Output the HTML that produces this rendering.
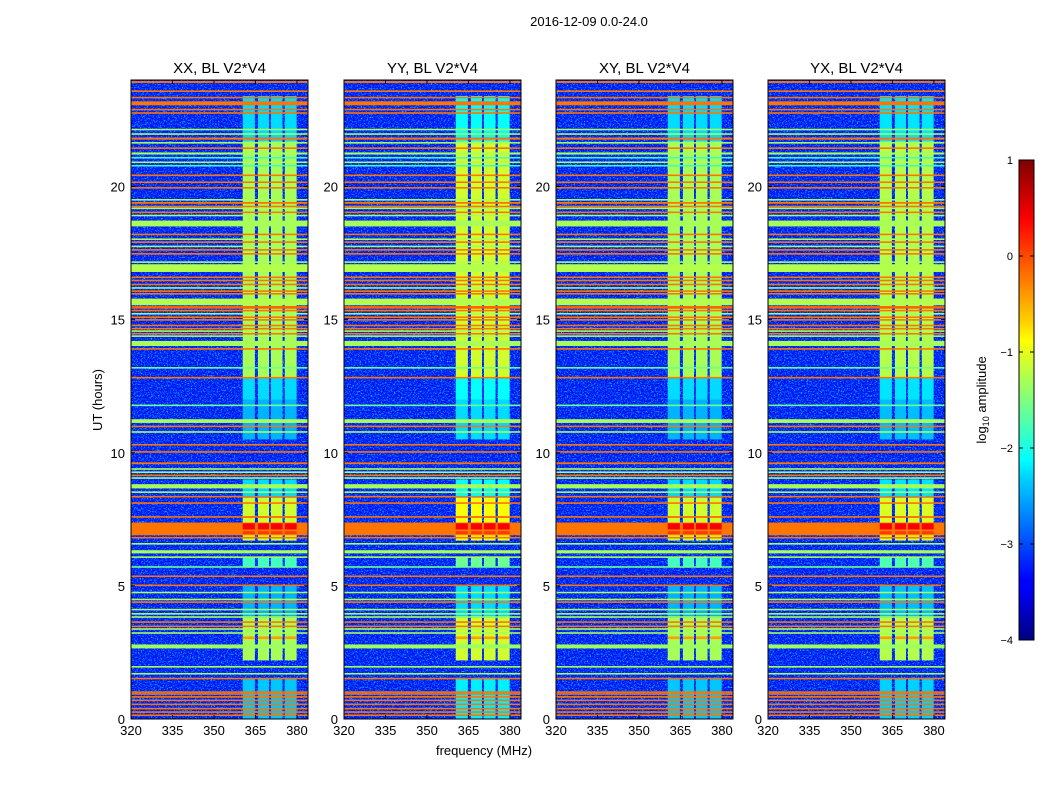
<!DOCTYPE html>
<html><head><meta charset="utf-8"><style>
body{margin:0;background:#fff;width:1050px;height:800px;overflow:hidden;font-family:"Liberation Sans",sans-serif}
svg text{font-family:"Liberation Sans",sans-serif;fill:#000}
</style></head><body>
<svg id="fig" width="1050" height="800" xmlns="http://www.w3.org/2000/svg">
<defs>
<linearGradient id="jet" x1="0" y1="1" x2="0" y2="0">
<stop offset="0" stop-color="#00007f"/><stop offset="0.11" stop-color="#0000ff"/><stop offset="0.125" stop-color="#0000ff"/>
<stop offset="0.34" stop-color="#00d4ff"/><stop offset="0.375" stop-color="#0ff"/><stop offset="0.5" stop-color="#7fff7f"/>
<stop offset="0.625" stop-color="#ff0"/><stop offset="0.66" stop-color="#ffd400"/><stop offset="0.875" stop-color="#f00"/><stop offset="1" stop-color="#7f0000"/>
</linearGradient>
<filter id="noise" x="0" y="0" width="1" height="1" filterUnits="objectBoundingBox">
<feTurbulence type="fractalNoise" baseFrequency="0.7" numOctaves="2" seed="3" result="t"/>
<feColorMatrix in="t" type="matrix" values="0 0 0 0 0  0 0 0 0 0.55  0 0 0 0 1  0 0 0 4 -1.9"/>
</filter>
<filter id="noise2" x="0" y="0" width="1" height="1" filterUnits="objectBoundingBox">
<feTurbulence type="fractalNoise" baseFrequency="0.8" numOctaves="2" seed="11" result="t"/>
<feColorMatrix in="t" type="matrix" values="0 0 0 0 0  0 0 0 0 0  0 0 0 0 0.75  0 0 0 4 -1.9"/>
</filter>
</defs>
<text x="589" y="26" font-size="13" text-anchor="middle">2016-12-09 0.0-24.0</text>
<text x="484" y="755" font-size="13" text-anchor="middle">frequency (MHz)</text>
<text x="0" y="0" font-size="13" text-anchor="middle" transform="translate(102,400) rotate(-90)">UT (hours)</text>
<g id="panels"></g>
<g>
<rect x="1019" y="160" width="15" height="480" fill="url(#jet)" stroke="#000" stroke-width="1"/>
<g id="cbticks"></g>
<text x="0" y="0" font-size="13" text-anchor="middle" transform="translate(986,400) rotate(-90)">log<tspan font-size="9" dy="3">10</tspan><tspan dy="-3"> amplitude</tspan></text>
</g>
</svg>
<script>
// ---- data ----
const panelTitles=["XX, BL V2*V4","YY, BL V2*V4","XY, BL V2*V4","YX, BL V2*V4"];
const panelX=[131,344,556,768];
const xTicks=[320,335,350,365,380];
const yTicks=[0,5,10,15,20];
const cbTicks=[1,0,-1,-2,-3,-4];
const backgroundLevel=-3.25;
// horizontal RFI lines: start hour, end hour, log10 amplitude
const lineStart=[23.89,23.56,23.31,23.05,22.87,22.74,22.13,21.96,21.76,21.63,21.43,21.20,21.07,20.90,20.77,20.41,20.15,19.94,19.49,19.35,19.24,19.17,19.02,18.90,18.50,18.18,18.01,17.90,17.74,17.61,17.46,17.15,16.79,16.58,16.46,16.31,16.18,16.06,15.96,15.54,15.41,15.33,15.21,15.08,14.98,14.77,14.65,14.56,14.46,14.37,14.01,13.89,13.18,12.79,11.77,11.12,10.98,10.77,10.29,10.00,9.57,9.38,9.26,9.14,9.04,8.66,8.51,8.32,8.10,7.58,6.90,6.80,6.57,6.22,6.07,5.70,5.35,5.01,4.74,4.48,4.38,4.10,3.94,3.81,3.63,3.47,3.37,3.22,2.65,1.93,1.69,1.51,1.01,0.94,0.82,0.69,0.54,0.38,0.25,0.13];
const lineEnd=  [23.96,23.61,23.37,23.20,22.92,22.79,22.17,22.00,21.84,21.67,21.47,21.28,21.11,20.94,20.81,20.45,20.19,19.98,19.53,19.42,19.28,19.21,19.06,18.94,18.72,18.23,18.05,17.94,17.78,17.65,17.50,17.19,17.08,16.62,16.50,16.35,16.22,16.10,16.00,15.79,15.51,15.37,15.25,15.12,15.02,14.81,14.69,14.60,14.50,14.41,14.20,13.93,13.22,12.85,11.81,11.26,11.02,10.81,10.33,10.06,9.64,9.42,9.30,9.18,9.08,8.82,8.55,8.38,8.14,7.62,7.38,6.84,6.61,6.34,6.11,5.74,5.39,5.05,4.78,4.52,4.42,4.14,3.98,3.86,3.67,3.51,3.41,3.26,2.80,1.99,1.73,1.55,1.04,0.97,0.86,0.73,0.58,0.42,0.29,0.17];
const lineLevel=[-0.2,-0.2,-0.2,-0.2,-0.2,-0.2,-1.3,-1.3,-0.2,-1.3,-0.2,-1.3,-1.8,-1.3,-1.8,-0.2,-0.2,-0.2,-1.3,-0.2,-0.2,-1.3,-0.2,-1.3,-1.3,-0.2,-1.3,-0.2,-1.3,-0.2,-0.2,-1.3,-1.25,-0.2,-0.2,-0.2,-1.3,-0.2,-0.2,-1.25,-0.1,-0.2,-1.3,-0.2,-0.2,-0.2,-0.2,-1.3,-0.2,-1.3,-1.3,-0.2,-1.6,-0.2,-1.6,-1.3,-0.2,-1.3,-0.2,-0.2,-0.2,-1.3,-1.3,-0.2,-1.3,-1.3,-1.3,-0.2,-0.2,-0.2,-0.2,-0.2,-1.3,-1.3,-1.3,-1.6,-0.2,-0.2,-1.3,-1.3,-0.2,-1.3,-1.3,-1.3,-0.2,-0.2,-1.3,-1.3,-1.35,-1.3,-1.3,-0.2,-0.2,-0.2,-0.2,-0.2,-0.2,-0.2,-0.2,-0.2];
// time-variable wideband RFI: start hour, end hour, level
const rfiStart=[21.70,12.80,12.00,10.50,8.30,6.70,5.70,3.80,2.20,0.00];
const rfiEnd=  [23.40,21.70,12.80,12.00,9.00,8.30,6.10,5.00,3.80,1.50];
const rfiLevel=[-2.3,-1.3,-2.3,-2.5,-2.3,-1.1,-1.8,-2.5,-1.3,-2.4];
// affected frequency channels (MHz)
const chanStart=[360.4,365.9,370.6,375.6];
const chanEnd=  [364.8,369.9,374.8,379.9];
// strong in-channel bursts: start hour, end hour, level
const hotStart=[7.12,6.95,7.55,3.0];
const hotEnd=  [7.35,7.05,7.62,3.1];
const hotLevel=[0.4,0.1,-0.2,-0.4];
// per-panel RFI boost (YY slightly stronger)
const panelBoost=[0,0.2,0,0.05];

// ---- helpers ----
const NS="http://www.w3.org/2000/svg";
function jet(v){let t=(v+4)/5;t=Math.max(0,Math.min(1,t));
 const r=Math.max(0,Math.min(1,Math.min(4*t-1.5,-4*t+4.5)));
 const g=Math.max(0,Math.min(1,Math.min(4*t-0.5,-4*t+3.5)));
 const b=Math.max(0,Math.min(1,Math.min(4*t+0.5,-4*t+2.5)));
 return `rgb(${Math.round(r*255)},${Math.round(g*255)},${Math.round(b*255)})`;}
function mk(tag,attrs,parent){const e=document.createElementNS(NS,tag);for(const k in attrs)e.setAttribute(k,attrs[k]);parent.appendChild(e);return e;}
const W=177,TOP=80,BOT=719,FMIN=320,FMAX=384,HMAX=24;
const panels=document.getElementById('panels');
panelX.forEach((x0,p)=>{
 const xs=f=>x0+(f-FMIN)/(FMAX-FMIN)*W;
 const ys=h=>BOT-h/HMAX*(BOT-TOP);
 const g=mk('g',{},panels);
 
 
 const bg=mk('rect',{x:x0,y:TOP,width:W,height:BOT-TOP,fill:jet(backgroundLevel)},g);
 
 
 const nz=mk('rect',{x:x0,y:TOP,width:W,height:BOT-TOP,fill:'#fff',filter:'url(#noise)'},g);
 
 
 const nz2=mk('rect',{x:x0,y:TOP,width:W,height:BOT-TOP,fill:'#fff',filter:'url(#noise2)'},g);
 
 
 rfiStart.forEach((s,i)=>{chanStart.forEach((c,j)=>{
  const r=mk('rect',{x:xs(c),y:ys(rfiEnd[i]),width:xs(chanEnd[j])-xs(c),height:ys(s)-ys(rfiEnd[i]),fill:jet(rfiLevel[i]+panelBoost[p])},g);
  
  
 });});
 lineStart.forEach((s,i)=>{
  const y1=ys(lineEnd[i]),h=Math.max(1.6,ys(s)-y1);
  const r=mk('rect',{x:x0,y:y1,width:W,height:h,fill:jet(lineLevel[i])},g);
  
  
 });
 hotStart.forEach((s,i)=>{chanStart.forEach((c,j)=>{
  const r=mk('rect',{x:xs(c),y:ys(hotEnd[i]),width:xs(chanEnd[j])-xs(c),height:ys(s)-ys(hotEnd[i]),fill:jet(hotLevel[i])},g);
  
  
 });});
 const fr=mk('rect',{x:x0,y:TOP,width:W,height:BOT-TOP,fill:'none',stroke:'#000','stroke-width':1},g);
 
 
 const tt=mk('text',{x:x0+W/2,y:73,'font-size':15,'text-anchor':'middle'},g);tt.textContent=panelTitles[p];
 
 
 xTicks.forEach(f=>{const X=xs(f);
  mk('line',{x1:X,x2:X,y1:BOT,y2:BOT-4,stroke:'#000'},g);mk('line',{x1:X,x2:X,y1:TOP,y2:TOP+4,stroke:'#000'},g);
  const t=mk('text',{x:X,y:BOT+16,'font-size':13,'text-anchor':'middle'},g);t.textContent=f;
  
  });
 yTicks.forEach(h=>{const Y=ys(h);
  mk('line',{x1:x0,x2:x0+4,y1:Y,y2:Y,stroke:'#000'},g);mk('line',{x1:x0+W,x2:x0+W-4,y1:Y,y2:Y,stroke:'#000'},g);
  const t=mk('text',{x:x0-6,y:Y+5,'font-size':13,'text-anchor':'end'},g);t.textContent=h;
  
  });
});
const cb=document.getElementById('cbticks');
cbTicks.forEach(v=>{const Y=160+(1-v)/5*480;
 mk('line',{x1:1019,x2:1023,y1:Y,y2:Y,stroke:'#000'},cb);mk('line',{x1:1034,x2:1030,y1:Y,y2:Y,stroke:'#000'},cb);
 const t=mk('text',{x:1013,y:Y+4,'font-size':11,'text-anchor':'end'},cb);t.textContent=v<0?'\u2212'+(-v):v;
 
 });
</script>
</body></html>
